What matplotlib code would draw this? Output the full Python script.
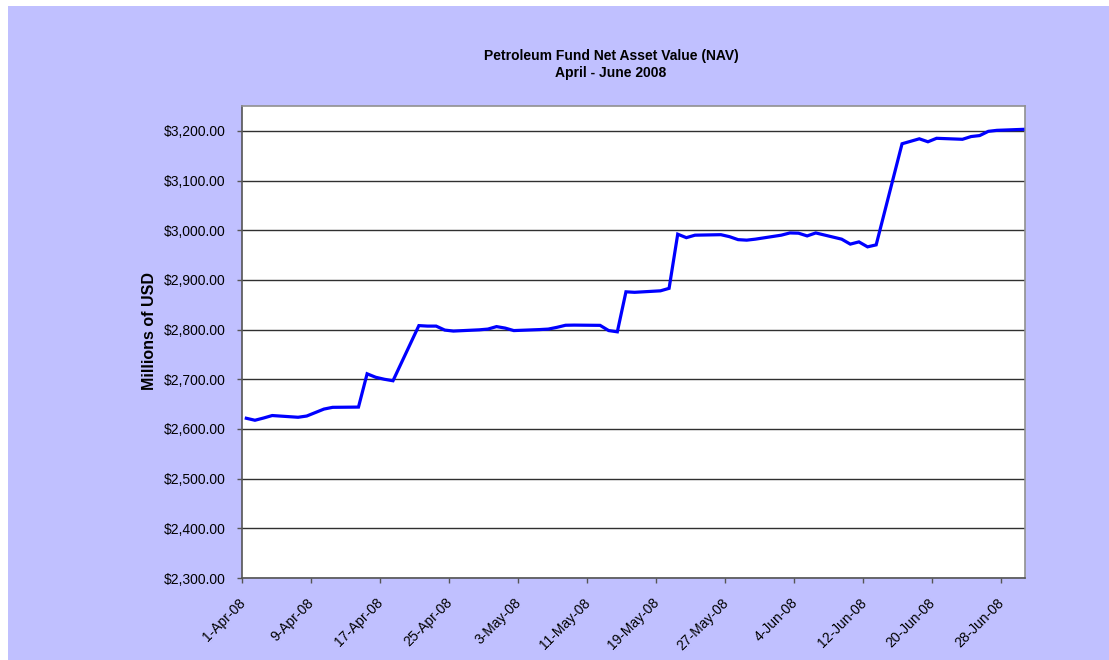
import matplotlib
matplotlib.use('Agg')
import matplotlib.pyplot as plt
import matplotlib.dates as mdates
import matplotlib.transforms as mtransforms
from matplotlib.ticker import FuncFormatter
from matplotlib.patches import Rectangle
import pandas as pd

# NAV diario (días hábiles), millones de USD
fechas = [
    '2008-04-01', '2008-04-02', '2008-04-03', '2008-04-04',
    '2008-04-07', '2008-04-08', '2008-04-09', '2008-04-10', '2008-04-11',
    '2008-04-14', '2008-04-15', '2008-04-16', '2008-04-17', '2008-04-18',
    '2008-04-21', '2008-04-22', '2008-04-23', '2008-04-24', '2008-04-25',
    '2008-04-28', '2008-04-29', '2008-04-30', '2008-05-01', '2008-05-02',
    '2008-05-05', '2008-05-06', '2008-05-07', '2008-05-08', '2008-05-09',
    '2008-05-12', '2008-05-13', '2008-05-14', '2008-05-15', '2008-05-16',
    '2008-05-19', '2008-05-20', '2008-05-21', '2008-05-22', '2008-05-23',
    '2008-05-26', '2008-05-27', '2008-05-28', '2008-05-29', '2008-05-30',
    '2008-06-02', '2008-06-03', '2008-06-04', '2008-06-05', '2008-06-06',
    '2008-06-09', '2008-06-10', '2008-06-11', '2008-06-12', '2008-06-13',
    '2008-06-16', '2008-06-17', '2008-06-18', '2008-06-19', '2008-06-20',
    '2008-06-23', '2008-06-24', '2008-06-25', '2008-06-26', '2008-06-27',
    '2008-06-30',
]
nav = [
    2621.5, 2617.5, 2622.0, 2627.0,
    2623.5, 2626.0, 2633.0, 2640.0, 2643.5,
    2644.0, 2711.0, 2704.0, 2700.0, 2697.0,
    2808.0, 2807.0, 2807.0, 2799.0, 2797.0,
    2799.5, 2801.0, 2806.0, 2803.0, 2798.0,
    2800.0, 2801.0, 2804.5, 2808.7, 2809.0,
    2808.5, 2798.0, 2795.5, 2876.0, 2875.0,
    2878.0, 2883.0, 2992.0, 2985.0, 2990.0,
    2991.0, 2987.0, 2981.0, 2980.0, 2982.0,
    2990.0, 2994.5, 2994.0, 2988.5, 2994.5,
    2982.0, 2972.0, 2976.5, 2966.5, 2970.5,
    3174.0, 3179.0, 3184.0, 3178.0, 3185.0,
    3183.0, 3188.5, 3190.5, 3199.0, 3201.0,
    3203.0,
]
etiquetas_x = ['2008-04-01', '2008-04-09', '2008-04-17', '2008-04-25',
               '2008-05-03', '2008-05-11', '2008-05-19', '2008-05-27',
               '2008-06-04', '2008-06-12', '2008-06-20', '2008-06-28']
ticks_y = [2300, 2400, 2500, 2600, 2700, 2800, 2900, 3000, 3100, 3200]

FONDO = '#C0C0FF'
plt.rcParams['font.family'] = ['Liberation Sans', 'DejaVu Sans']

fig = plt.figure(figsize=(11.09, 6.6), dpi=100, facecolor='white')
# fondo lavanda (deja una franja blanca arriba e izquierda)
fig.patches.append(Rectangle((8 / 1109, 0), 1, 654 / 660, transform=fig.transFigure,
                             facecolor=FONDO, edgecolor='none', zorder=-10))

ax = fig.add_axes([242 / 1109, 82 / 660, 783 / 1109, 472 / 660])
ax.set_facecolor('white')

# cada punto en el centro de su día (eje de fechas tipo Excel)
x = pd.to_datetime(fechas) + pd.Timedelta(hours=12)
ax.plot(x, nav, color='#0000FF', linewidth=2.3, solid_joinstyle='miter', zorder=3)

ax.set_xlim(pd.Timestamp('2008-04-01'), pd.Timestamp('2008-07-01') - pd.Timedelta(hours=6))
ax.set_ylim(2300, 3250)

ax.set_xticks(pd.to_datetime(etiquetas_x))
ax.xaxis.set_major_formatter(FuncFormatter(
    lambda v, p: f"{mdates.num2date(v).day}-{mdates.num2date(v).strftime('%b-%y')}"))
ax.set_yticks(ticks_y)
ax.yaxis.set_major_formatter(FuncFormatter(lambda v, p: f"${v:,.2f}"))

ax.yaxis.grid(True, color='#303030', linewidth=1.0)
ax.set_axisbelow(True)

for lado in ['top', 'right']:
    ax.spines[lado].set_color('#909090')
for lado in ['left', 'bottom']:
    ax.spines[lado].set_color('#555555')
for s in ax.spines.values():
    s.set_linewidth(1.2)

ax.tick_params(axis='both', direction='out', length=3.6, width=1, color='#555555',
               labelsize=10, labelcolor='black')
ax.tick_params(axis='y', pad=8)
ax.tick_params(axis='x', pad=9)
desplaza = mtransforms.ScaledTranslation(-4 / 100, 0, fig.dpi_scale_trans)
for lbl in ax.get_xticklabels():
    lbl.set_rotation(45)
    lbl.set_ha('right')
    lbl.set_rotation_mode('anchor')
    lbl.set_transform(lbl.get_transform() + desplaza)

fig.text(150 / 1109, 1 - 331 / 660, 'Millions of USD', rotation=90,
         ha='center', va='center', fontsize=11.5, fontweight='bold')

fig.text(611 / 1109, 1 - 56 / 660, 'Petroleum Fund Net Asset Value (NAV)',
         ha='center', va='center', fontsize=10, fontweight='bold')
fig.text(611 / 1109, 1 - 73 / 660, 'April - June 2008',
         ha='center', va='center', fontsize=10, fontweight='bold')

fig.savefig('out.png', dpi=100, facecolor=fig.get_facecolor())
